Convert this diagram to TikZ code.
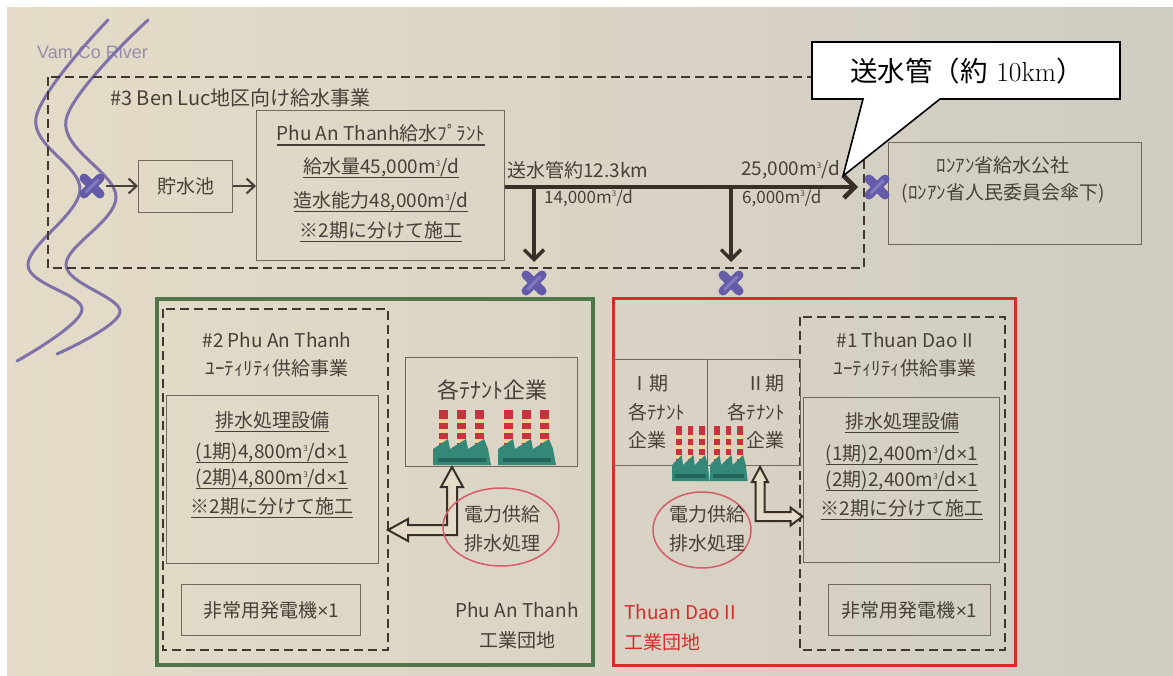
\documentclass[tikz,border=0pt]{standalone}
\usepackage{fontspec}
\newfontfamily\jp{Noto Sans CJK JP}
\newfontfamily\lat{Liberation Sans}
\usetikzlibrary{arrows.meta,calc}

\definecolor{paperL}{RGB}{228,220,200}
\definecolor{paperR}{RGB}{208,204,194}
\definecolor{ink}{RGB}{70,64,56}
\definecolor{boxline}{RGB}{112,104,92}
\definecolor{dashc}{RGB}{64,56,46}
\definecolor{pipec}{RGB}{56,48,40}
\definecolor{xmarkc}{RGB}{100,92,168}
\definecolor{xmarklight}{RGB}{150,140,205}
\definecolor{riverc}{RGB}{126,114,168}
\definecolor{rivertext}{RGB}{150,142,168}
\definecolor{parkgreen}{RGB}{80,118,74}
\definecolor{parkred}{RGB}{214,44,44}
\definecolor{penred}{RGB}{214,92,104}
\definecolor{factorybody}{RGB}{52,136,120}
\definecolor{factorydark}{RGB}{36,100,90}
\definecolor{stackred}{RGB}{200,50,62}
\definecolor{stackband}{RGB}{238,214,150}

% underline drawn as a rule under the text box
\newcommand\ulin[1]{\setbox0\hbox{#1}\rlap{\color{ink}\rule[-5pt]{\wd0}{1.4pt}}\box0}
% cubic metres with a small raised 3
\newcommand\cbm{m\raisebox{7pt}{\fontsize{8}{8}\selectfont 3}}
% narrow multiplication sign
\newcommand\tms{{\lat ×}}

\tikzset{
  txt/.style={font=\jp\fontsize{19}{22}\selectfont, text=ink, inner sep=0pt},
  bigtxt/.style={txt, font=\jp\fontsize{22}{26}\selectfont},
  smalltxt/.style={txt, font=\jp\fontsize{17}{20}\selectfont},
  box/.style={draw=boxline, line width=1.3pt, inner sep=0pt},
  dbox/.style={draw=dashc, line width=2.6pt, dash pattern=on 9pt off 5pt},
  xmk/.style={minimum size=28pt, inner sep=0pt, outer sep=0pt,
    path picture={
      \draw[xmarkc, line width=9pt, line cap=round]
        ([shift={(-8pt,-8pt)}]path picture bounding box.center) --
        ([shift={(8pt,8pt)}]path picture bounding box.center);
      \draw[xmarkc, line width=9pt, line cap=round]
        ([shift={(-8pt,8pt)}]path picture bounding box.center) --
        ([shift={(8pt,-8pt)}]path picture bounding box.center);
      \draw[xmarklight, line width=3pt, line cap=round, opacity=0.6]
        ([shift={(-6pt,-6pt)}]path picture bounding box.center) --
        ([shift={(6pt,6pt)}]path picture bounding box.center);
    }},
  thinarrow/.style={draw=ink, line width=2pt, -{Straight Barb[length=8pt,width=15pt]}},
  pipe/.style={draw=pipec, line width=4.5pt, -{Straight Barb[length=11pt,width=22pt]}},
  branch/.style={draw=pipec, line width=3.5pt, -{Straight Barb[length=10pt,width=20pt]}},
  hollowarrow/.style={draw=pipec, line width=2pt, fill=paperL, line join=miter},
  redpen/.style={draw=penred, line width=1.5pt},
  factory/.pic={
    \foreach \sx in {6,24,42}{
      \fill[stackred] (\sx,-14) rectangle ++(9,-41);
      \foreach \yy in {-22,-32,-42}{\fill[stackband] (\sx,\yy) rectangle ++(9,-4);}
    }
    \fill[factorybody] (0,0) -- (0,-16) -- (15,-26) -- (17,-16) -- (33,-26)
      -- (35,-16) -- (51,-26) -- (55,-16) -- (58,0) -- cycle;
    \fill[factorydark] (5,-3) rectangle (53,-7);
  }
}

\begin{document}
\begin{tikzpicture}[x=1pt,y=-1pt]
\useasboundingbox (0,0) rectangle (1173,675);
\fill[white] (0,0) rectangle (1173,675);
\shade[left color=paperL, right color=paperR] (7,7) rectangle (1173,675);

% river
\node[txt, text=rivertext, font=\lat\fontsize{18}{21}\selectfont, anchor=west] (rivername) at (37,52) {Vam Co River};
\draw[riverc, line width=3pt, line cap=round] plot[smooth, tension=0.6] coordinates
  {(108,20) (36,118) (80,190) (28,265) (82,310) (17,361)};
\draw[riverc, line width=3pt, line cap=round] plot[smooth, tension=0.6] coordinates
  {(148,20) (66,120) (116,197) (66,265) (120,312) (57,354)};

% #3 water supply project
\draw[dbox] (48,77) rectangle (864,268);
\node[txt, font=\jp\fontsize{20}{24}\selectfont, anchor=west] (t3) at (110,98) {\#3 Ben Luc地区向け給水事業};

\node[box, anchor=north west, minimum width=94pt, minimum height=52pt] (res) at (138,160) {};
\node[txt] at (res) {貯水池};

\node[box, anchor=north west, minimum width=248pt, minimum height=150pt] (plant) at (256,110) {};
\node[txt] (p1) at (381,135) {\ulin{Phu An Thanh給水ﾌﾟﾗﾝﾄ}};
\node[txt] (p2) at (381,168) {\ulin{給水量45,000\cbm/d}};
\node[txt] (p3) at (381,202) {\ulin{造水能力48,000\cbm/d}};
\node[txt] (p4) at (381,232) {\ulin{※2期に分けて施工}};

\node[box, anchor=north west, minimum width=253pt, minimum height=102pt] (longan) at (888,142) {};
\node[txt] (l1) at (1003,165) {ﾛﾝｱﾝ省給水公社};
\node[txt] (l2) at (1003,193) {(ﾛﾝｱﾝ省人民委員会傘下)};

% intake and connection points
\node[xmk] (xriver) at (92,186) {};
\node[xmk] (xend) at (877,187) {};
\node[xmk] (xpat) at (534,283) {};
\node[xmk] (xtd) at (731,283) {};

\draw[thinarrow] (xriver.east) -- (res.west |- xriver.east);
\draw[thinarrow] (res.east |- xriver.east) -- (plant.west |- xriver.east);

% transmission pipe with branches
\coordinate (b1) at (534,187);
\coordinate (b2) at (731,187);
\draw[pipe, shorten >=5pt] (plant.east |- xend) -- (xend.west);
\draw[branch, shorten >=7pt] (b1) -- (xpat.north);
\draw[branch, shorten >=7pt] (b2) -- (xtd.north);
\node[txt, anchor=west] (pipelen) at (507,170) {送水管約12.3km};
\node[txt, anchor=east] (q25) at (840,170) {25,000\cbm/d};
\node[smalltxt, anchor=west] (q14) at (544,198) {14,000\cbm/d};
\node[smalltxt, anchor=west] (q6) at (742,198) {6,000\cbm/d};

% callout
\coordinate (calltip) at (843,176);
\draw[line width=1.6pt, fill=white] (812,42) -- (1120,42) -- (1120,99) -- (940,99)
  -- (calltip) -- (863,99) -- (812,99) -- cycle;
\node[inner sep=0pt, font=\fontsize{27.5}{30}\selectfont] (callt) at (967,71) {{\jp 送水管（約} 10km{\jp ）}};

% Phu An Thanh industrial park
\draw[draw=parkgreen, line width=3.5pt] (157,299) rectangle (593,665);
\draw[dbox] (163,309) rectangle (388,650);
\node[txt] (t2a) at (277,340) {\#2 Phu An Thanh};
\node[txt] (t2b) at (277,368) {ﾕｰﾃｨﾘﾃｨ供給事業};
\node[box, anchor=north west, minimum width=212pt, minimum height=168pt] (dpat) at (166,395) {};
\node[txt] (d1) at (272,422) {\ulin{排水処理設備}};
\node[txt] (d2) at (272,453) {\ulin{(1期)4,800\cbm/d\tms1}};
\node[txt] (d3) at (272,479) {\ulin{(2期)4,800\cbm/d\tms1}};
\node[txt] (d4) at (272,508) {\ulin{※2期に分けて施工}};
\node[box, anchor=north west, minimum width=179pt, minimum height=51pt] (gpat) at (181,584) {};
\node[txt] at (gpat) {非常用発電機\tms1};

\node[box, anchor=north west, minimum width=172pt, minimum height=109pt] (tpat) at (405,357) {};
\node[bigtxt] (tt) at (492,390) {各ﾃﾅﾝﾄ企業};
\pic at (433,465) {factory};
\pic at (498,465) {factory};

\coordinate (pa) at (452,467);
\draw[hollowarrow] (pa) -- ++(11,20) -- ++(-6,0) -- ++(0,48) -- ++(-49,0) -- ++(0,6)
  -- ++(-20,-11) -- ++(20,-11) -- ++(0,6) -- ++(39,0) -- ++(0,-38) -- ++(-6,0) -- cycle;

\draw[redpen] (501,527) ellipse [x radius=58, y radius=39];
\node[txt] (e1) at (502,514) {電力供給};
\node[txt] (e2) at (502,543) {排水処理};
\node[txt] (n1) at (517,610) {Phu An Thanh};
\node[txt] (n2) at (517,640) {工業団地};

% Thuan Dao II industrial park
\draw[draw=parkred, line width=3pt] (613,298) rectangle (1015,665);
\draw[dbox] (800,317) rectangle (1005,650);
\node[txt] (t1a) at (905,340) {\#1 Thuan Dao II};
\node[txt] (t1b) at (905,368) {ﾕｰﾃｨﾘﾃｨ供給事業};
\node[box, anchor=north west, minimum width=196pt, minimum height=165pt] (dtd) at (803,397) {};
\node[txt] (f1) at (902,423) {\ulin{排水処理設備}};
\node[txt] (f2) at (902,455) {\ulin{(1期)2,400\cbm/d\tms1}};
\node[txt] (f3) at (902,481) {\ulin{(2期)2,400\cbm/d\tms1}};
\node[txt] (f4) at (902,510) {\ulin{※2期に分けて施工}};
\node[box, anchor=north west, minimum width=162pt, minimum height=51pt] (gtd) at (828,584) {};
\node[txt] at (gtd) {非常用発電機\tms1};

\node[box, anchor=north west, minimum width=187pt, minimum height=106pt] (ttd) at (613,359) {};
\draw[box] (ttd.north) -- (ttd.south);
\node[txt, anchor=west] (i1) at (630,383) {Ⅰ期};
\node[txt, anchor=west] (i2) at (628,412) {各ﾃﾅﾝﾄ};
\node[txt, anchor=west] (i3) at (628,440) {企業};
\node[txt, anchor=east] (j1) at (785,383) {Ⅱ期};
\node[txt, anchor=east] (j2) at (785,412) {各ﾃﾅﾝﾄ};
\node[txt, anchor=east] (j3) at (785,440) {企業};
\pic[xscale=0.65] at (672,481) {factory};
\pic[xscale=0.65] at (710,481) {factory};

\coordinate (ta) at (760,467);
\draw[hollowarrow] (ta) -- ++(8,15) -- ++(-3.5,0) -- ++(0,30) -- ++(26,0) -- ++(0,-4.5)
  -- ++(12,9) -- ++(-12,9) -- ++(0,-4.5) -- ++(-35,0) -- ++(0,-39) -- ++(-3.5,0) -- cycle;

\draw[redpen] (702,530) ellipse [x radius=49, y radius=38];
\node[txt] (g1) at (707,514) {電力供給};
\node[txt] (g2) at (707,543) {排水処理};
\node[txt, text=parkred, anchor=west] (m1) at (624,612) {Thuan Dao II};
\node[txt, text=parkred, anchor=west] (m2) at (624,642) {工業団地};
\end{tikzpicture}
\end{document}
